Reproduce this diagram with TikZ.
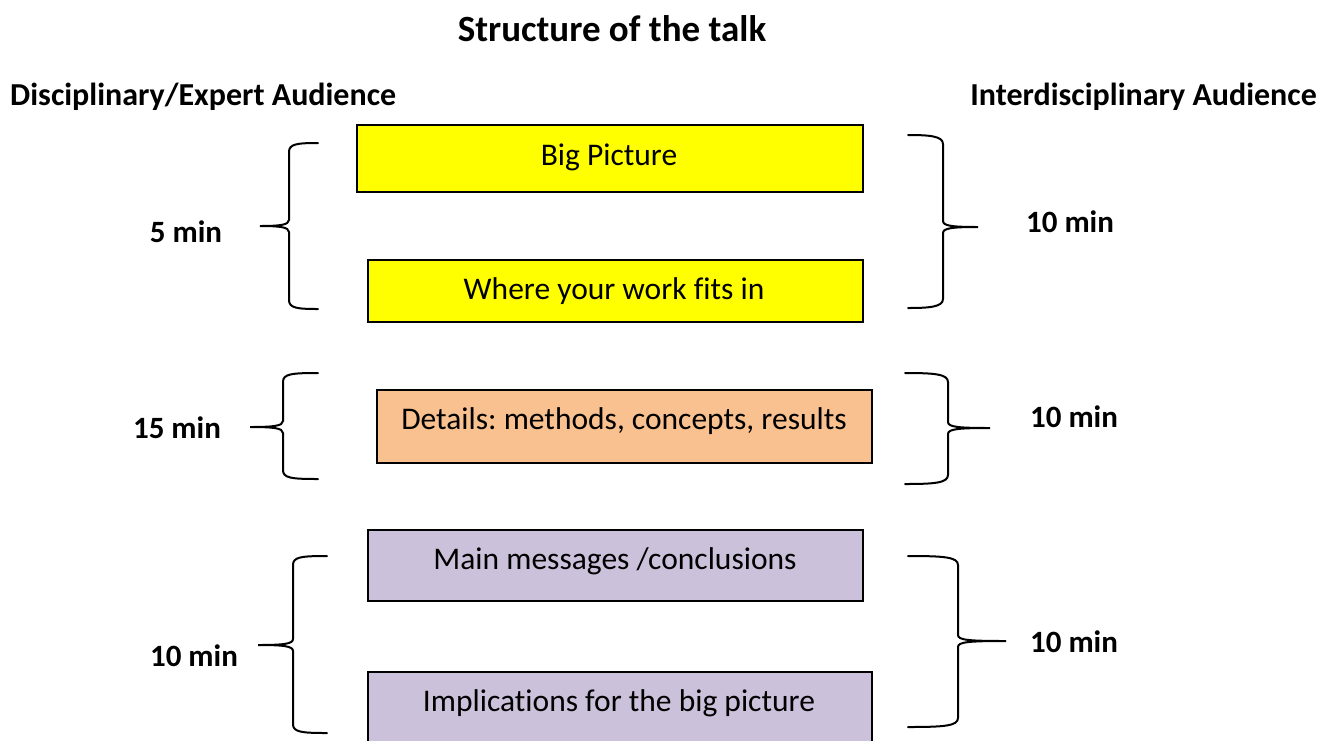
\documentclass[tikz,border=0pt]{standalone}
\usepackage{fontspec}
\setmainfont[Ligatures=NoCommon]{Carlito}
\frenchspacing
\definecolor{brightyellow}{HTML}{FFFF00}
\definecolor{peach}{HTML}{F8C18F}
\definecolor{lilac}{HTML}{CCC1DA}
\newcommand\DrawBraceLeft[6]{%
  \draw[bracepath] (#1,#4) .. controls (#2+8,#4) and (#2,#4+1) .. (#2,#4+9)
    -- (#2,#5-6) .. controls (#2,#5-1) and (#2-10,#5) .. (#3,#5)
    .. controls (#2-10,#5) and (#2,#5+1) .. (#2,#5+6)
    -- (#2,#6-9) .. controls (#2,#6-1) and (#2+8,#6) .. (#1,#6);}
\newcommand\DrawBraceRight[6]{%
  \draw[bracepath] (#1,#4) .. controls (#2-14,#4) and (#2,#4+1) .. (#2,#4+9)
    -- (#2,#5-6) .. controls (#2,#5-1) and (#2+10,#5) .. (#3,#5)
    .. controls (#2+10,#5) and (#2,#5+1) .. (#2,#5+6)
    -- (#2,#6-9) .. controls (#2,#6-1) and (#2-14,#6) .. (#1,#6);}
\begin{document}
\begin{tikzpicture}[x=1pt,y=-1pt,
  box/.style={draw=black,line width=1.5pt,inner sep=0pt,anchor=north west},
  boxtext/.style={font=\fontsize{31.5}{36}\selectfont,inner sep=0pt},
  head/.style={font=\fontsize{32}{38}\selectfont\bfseries,inner sep=0pt},
  lab/.style={font=\fontsize{31}{36}\selectfont\bfseries,inner sep=0pt},
  bracepath/.style={line width=2pt,line cap=round}]
\useasboundingbox (0,0) rectangle (1333,740);
\clip (0,0) rectangle (1333,740);

% titles
\node[head,font=\fontsize{37}{42}\selectfont\bfseries] (title) at (612,29) {Structure of the talk};
\node[head,anchor=west] (hleft) at (10,97) {Disciplinary/Expert Audience};
\node[head,anchor=east] (hright) at (1317,97) {Interdisciplinary Audience};

% boxes
\node[box,fill=brightyellow,minimum width=506pt,minimum height=67pt] (big) at (356,124) {};
\node[boxtext] (bigt) at (609,157) {Big Picture};
\node[box,fill=brightyellow,minimum width=495pt,minimum height=62pt] (fits) at (367,259) {};
\node[boxtext] (fitst) at (614,291) {Where your work fits in};
\node[box,fill=peach,minimum width=495pt,minimum height=73pt] (det) at (376,389) {};
\node[boxtext] (dett) at (624,421) {Details: methods, concepts, results};
\node[box,fill=lilac,minimum width=495pt,minimum height=71pt] (msg) at (367,529) {};
\node[boxtext] (msgt) at (615,561) {Main messages /conclusions};
\node[box,fill=lilac,minimum width=504pt,minimum height=90pt] (impl) at (367,671) {};
\node[boxtext] (implt) at (619,703) {Implications for the big picture};

% braces, left side
\DrawBraceLeft{318}{289}{260}{143}{226}{309}
\DrawBraceLeft{318}{283}{250}{373}{427}{479}
\DrawBraceLeft{327}{293}{258}{556}{645}{733}
% braces, right side
\DrawBraceRight{908}{943}{978}{135}{227}{308}
\DrawBraceRight{905}{948}{990}{373}{428}{484}
\DrawBraceRight{908}{958}{1006}{556}{641}{727}

% durations
\node[lab] (l1) at (186,232) {5 min};
\node[lab] (l2) at (177,428) {15 min};
\node[lab] (l3) at (194,656) {10 min};
\node[lab] (r1) at (1070,222) {10 min};
\node[lab] (r2) at (1074,417) {10 min};
\node[lab] (r3) at (1074,642) {10 min};
\end{tikzpicture}
\end{document}
